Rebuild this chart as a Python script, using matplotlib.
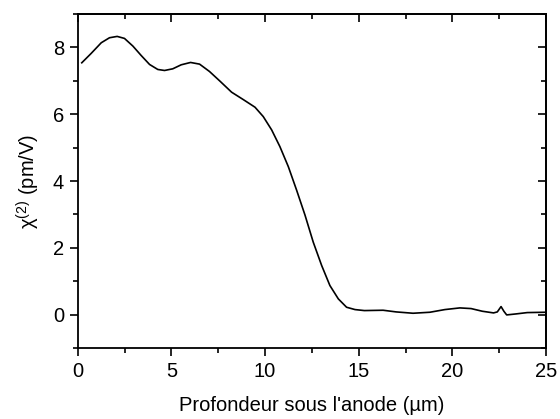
import numpy as np
import matplotlib
matplotlib.use("Agg")
import matplotlib.pyplot as plt
from matplotlib.ticker import MultipleLocator

plt.rcParams['font.family'] = ['Liberation Sans', 'DejaVu Sans']
plt.rcParams['mathtext.default'] = 'regular'

# Depth below anode (um) and chi(2) (pm/V)
depth = [0.21, 0.71, 1.25, 1.69, 2.10, 2.49, 2.94, 3.38, 3.83, 4.27, 4.63, 5.07,
         5.52, 6.02, 6.50, 7.03, 7.59, 8.21, 8.83, 9.46, 9.90, 10.35, 10.79,
         11.24, 11.68, 12.13, 12.57, 13.02, 13.46, 13.91, 14.35, 14.8, 15.3,
         16.3, 17.0, 17.9, 18.8, 19.6, 20.4, 21.0, 21.6, 22.2, 22.4, 22.6,
         22.75, 22.9, 23.4, 24.0, 25.0]
chi2 = [7.54, 7.82, 8.14, 8.29, 8.33, 8.27, 8.04, 7.76, 7.49, 7.34, 7.31, 7.36,
        7.48, 7.55, 7.50, 7.28, 6.99, 6.66, 6.44, 6.21, 5.93, 5.53, 5.03,
        4.43, 3.73, 2.98, 2.17, 1.47, 0.87, 0.47, 0.22, 0.15, 0.12,
        0.13, 0.08, 0.04, 0.07, 0.15, 0.2, 0.18, 0.1, 0.05, 0.08, 0.24,
        0.1, -0.01, 0.02, 0.06, 0.07]

x_ticks = [0, 5, 10, 15, 20, 25]
y_ticks = [0, 2, 4, 6, 8]

fig = plt.figure(figsize=(5.6, 4.19), dpi=100)
ax = fig.add_axes([0.139, 0.1695, 0.836, 0.797])

ax.plot(depth, chi2, color='black', linewidth=1.2)

ax.set_xlim(0, 25)
ax.set_ylim(-1, 9)
ax.set_xticks(x_ticks)
ax.set_yticks(y_ticks)
ax.xaxis.set_minor_locator(MultipleLocator(2.5))
ax.yaxis.set_minor_locator(MultipleLocator(1))
ax.tick_params(which='major', direction='out', length=6, width=1.2, labelsize=14.5, pad=4)
ax.tick_params(which='minor', direction='out', length=3.5, width=1.2)
for s in ax.spines.values():
    s.set_linewidth(1.3)

# mirrored ticks pointing inward on top and right
top = ax.secondary_xaxis('top')
top.set_xticks(x_ticks)
top.xaxis.set_minor_locator(MultipleLocator(2.5))
top.tick_params(which='major', direction='in', length=6, width=1.2, labeltop=False)
top.tick_params(which='minor', direction='in', length=3.5, width=1.2)
right = ax.secondary_yaxis('right')
right.set_yticks(y_ticks)
right.yaxis.set_minor_locator(MultipleLocator(1))
right.tick_params(which='major', direction='in', length=6, width=1.2, labelright=False)
right.tick_params(which='minor', direction='in', length=3.5, width=1.2)
for s in list(top.spines.values()) + list(right.spines.values()):
    s.set_linewidth(1.3)

ax.set_xlabel("Profondeur sous l'anode (µm)", fontsize=14.5, labelpad=11)
ax.set_ylabel("χ$^{(2)}$ (pm/V)", fontsize=14.5, labelpad=8)

fig.savefig('out.png', dpi=100)
